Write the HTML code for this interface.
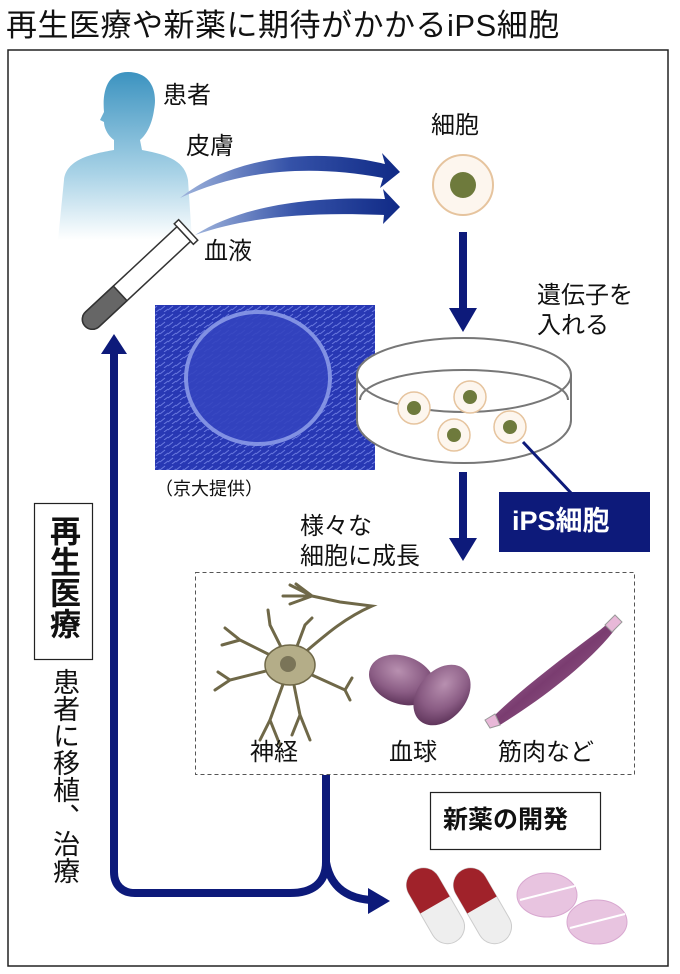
<!DOCTYPE html>
<html><head><meta charset="utf-8"><style>
html,body{margin:0;padding:0;background:#fff;}
body{width:680px;height:974px;position:relative;overflow:hidden;font-family:"Liberation Sans","Noto Sans CJK JP",sans-serif;}
.t{position:absolute;color:#111;white-space:nowrap;line-height:1;}
</style></head><body>
<svg width="680" height="974" viewBox="0 0 680 974" style="position:absolute;left:0;top:0">
<defs>
<linearGradient id="body" x1="0" y1="0" x2="0" y2="1"><stop offset="0" stop-color="#3c93c0"/><stop offset="0.6" stop-color="#a8d2e6"/><stop offset="1" stop-color="#fff"/></linearGradient>
<linearGradient id="arr" x1="0" y1="0" x2="1" y2="0"><stop offset="0" stop-color="#9fb4dc"/><stop offset="0.5" stop-color="#3552a8"/><stop offset="1" stop-color="#102a86"/></linearGradient>
<pattern id="tex" width="8" height="8" patternUnits="userSpaceOnUse"><rect width="8" height="8" fill="#2838b4"/><path d="M0 6 L5 2 M4 8 L8 5" stroke="#6a7ae0" stroke-width="1"/></pattern>
<radialGradient id="rbc" cx="0.4" cy="0.35" r="0.7"><stop offset="0" stop-color="#b890b0"/><stop offset="0.6" stop-color="#8a5c84"/><stop offset="1" stop-color="#5c3258"/></radialGradient>
<linearGradient id="mus" x1="0" y1="0" x2="1" y2="1"><stop offset="0" stop-color="#c8a0c4"/><stop offset="0.5" stop-color="#7a3c70"/><stop offset="1" stop-color="#a8789c"/></linearGradient>
</defs>
<rect x="8" y="50" width="660" height="916" fill="none" stroke="#222" stroke-width="1.5"/>
<!-- person -->
<path d="M128 72 C150 72 158 90 154 110 C152 125 146 135 140 140 L142 150 C170 155 185 162 188 180 L192 240 L58 240 L64 180 C66 160 90 154 114 150 L114 140 C108 136 104 128 104 122 L100 120 L104 112 C102 90 108 72 128 72 Z" fill="url(#body)"/>
<!-- test tube -->
<g transform="translate(186,232) rotate(137)">
<rect x="-3" y="-14" width="6" height="28" fill="#fff" stroke="#333" stroke-width="1.5"/>
<path d="M3 -10 L128 -10 A10 10 0 0 1 128 10 L3 10 Z" fill="#fff" stroke="#333" stroke-width="1.5"/>
<path d="M90 -10 L128 -10 A10 10 0 0 1 128 10 L90 10 Z" fill="#666" stroke="#333" stroke-width="1.5"/>
</g>
<!-- curved arrows -->
<path d="M180 198 C230 158 310 146 385 164 L382 153 L400 172 L380 188 L383 178 C310 164 240 170 180 198 Z" fill="url(#arr)"/>
<path d="M195 235 C240 206 310 196 385 199 L383 189 L400 207 L383 224 L384 215 C310 212 250 216 195 235 Z" fill="url(#arr)"/>
<!-- cell -->
<circle cx="463" cy="185" r="30" fill="#fdf6ee" stroke="#e6c49e" stroke-width="2"/>
<circle cx="463" cy="185" r="13" fill="#6e7a3c"/>
<!-- down arrows -->
<rect x="459" y="232" width="8" height="78" fill="#0d1a7a"/>
<path d="M449 308 L477 308 L463 332 Z" fill="#0d1a7a"/>
<rect x="459" y="472" width="8" height="68" fill="#0d1a7a"/>
<path d="M449 538 L477 538 L463 561 Z" fill="#0d1a7a"/>
<!-- photo -->
<rect x="155" y="305" width="220" height="165" fill="url(#tex)"/>
<ellipse cx="258" cy="378" rx="72" ry="66" fill="#3444c0" stroke="#8a9ae8" stroke-width="4" opacity="0.9"/>
<!-- dish -->
<path d="M357 375 L357 420 A107 43 0 0 0 571 420 L571 375" fill="#fff" stroke="#777" stroke-width="2"/>
<ellipse cx="464" cy="375" rx="107" ry="37" fill="#fff" stroke="#777" stroke-width="2"/>
<path d="M360 400 A104 30 0 0 1 568 400" fill="none" stroke="#777" stroke-width="2"/>
<g fill="#fdf6ee" stroke="#e6c49e" stroke-width="1.5">
<circle cx="414" cy="408" r="16"/><circle cx="470" cy="397" r="16"/><circle cx="454" cy="435" r="16"/><circle cx="510" cy="427" r="16"/></g>
<g fill="#6e7a3c"><circle cx="414" cy="408" r="7"/><circle cx="470" cy="397" r="7"/><circle cx="454" cy="435" r="7"/><circle cx="510" cy="427" r="7"/></g>
<line x1="523" y1="442" x2="572" y2="494" stroke="#0d1a7a" stroke-width="3"/>
<rect x="499" y="492" width="151" height="60" fill="#0d1a7a"/>
<!-- dashed box -->
<rect x="195.5" y="572.5" width="439" height="202" fill="none" stroke="#555" stroke-width="1" stroke-dasharray="4,3"/>
<!-- neuron -->
<g stroke="#6f6848" stroke-width="3" fill="none" stroke-linecap="round">
<path d="M290 665 L240 640 M240 640 L222 645 M240 640 L225 628"/>
<path d="M290 665 L230 680 L215 690 M230 680 L218 672"/>
<path d="M290 665 L270 720 L260 740 M270 720 L280 745"/>
<path d="M290 665 L300 715 L310 740 M300 715 L292 735"/>
<path d="M290 665 L345 690 L352 678 M345 690 L350 700"/>
<path d="M290 665 L305 625 L312 618"/>
<path d="M290 665 L270 625 L268 610"/>
<path d="M290 665 C320 640 340 620 372 606 L340 602 L312 596 M312 596 L290 585 M312 596 L283 596 M312 596 L290 604 M312 596 L296 584"/>
</g>
<ellipse cx="290" cy="665" rx="25" ry="20" fill="#b4ad88" stroke="#6f6848" stroke-width="1.5"/>
<circle cx="288" cy="664" r="8" fill="#7a7458"/>
<!-- rbc -->
<ellipse cx="402" cy="680" rx="34" ry="24" transform="rotate(20 402 680)" fill="url(#rbc)"/>
<ellipse cx="442" cy="695" rx="24" ry="34" transform="rotate(40 442 695)" fill="url(#rbc)"/>
<!-- muscle -->
<path d="M492 718 C520 690 560 660 600 630 L612 620 L618 626 L608 638 C580 670 540 700 500 725 Z" fill="url(#mus)"/>
<path d="M485 720 L495 714 L500 725 L490 728 Z" fill="#e8b8d8" stroke="#999"/>
<path d="M605 625 L615 615 L622 622 L612 632 Z" fill="#e8b8d8" stroke="#999"/>
<!-- drug box -->
<rect x="430.5" y="792.5" width="170" height="57" fill="#fff" stroke="#222" stroke-width="1.2"/>
<!-- pills -->
<g transform="rotate(-30 435 905)"><rect x="418" y="865" width="34" height="82" rx="17" fill="#eee" stroke="#ccc"/><path d="M418 905 L418 882 A17 17 0 0 1 452 882 L452 905 Z" fill="#a0222a"/></g>
<g transform="rotate(-30 482 905)"><rect x="465" y="865" width="34" height="82" rx="17" fill="#eee" stroke="#ccc"/><path d="M465 905 L465 882 A17 17 0 0 1 499 882 L499 905 Z" fill="#a0222a"/></g>
<ellipse cx="547" cy="895" rx="30" ry="22" fill="#e8c4e0" stroke="#d8a8d0"/>
<line x1="520" y1="900" x2="575" y2="886" stroke="#fff" stroke-width="2"/>
<ellipse cx="597" cy="922" rx="30" ry="22" fill="#e8c4e0" stroke="#d8a8d0"/>
<line x1="570" y1="928" x2="625" y2="914" stroke="#fff" stroke-width="2"/>
<!-- connectors -->
<path d="M326 775 L326 862 C326 885 310 893 290 893 L135 893 C122 893 114 885 114 872 L114 352" fill="none" stroke="#0d1a7a" stroke-width="8"/>
<path d="M101 354 L127 354 L114 334 Z" fill="#0d1a7a"/>
<path d="M326 862 C330 885 345 898 370 900" fill="none" stroke="#0d1a7a" stroke-width="8"/>
<path d="M368 888 L390 901 L368 914 Z" fill="#0d1a7a"/>
<!-- regen box -->
<rect x="34.5" y="503.5" width="58" height="156" fill="#fff" stroke="#222" stroke-width="1.2"/>
</svg>
<div class="t" style="left:6px;top:10px;font-size:31px;letter-spacing:0.5px;">再生医療や新薬に期待がかかるiPS細胞</div>
<div class="t" style="left:163px;top:84px;font-size:24px;">患者</div>
<div class="t" style="left:186px;top:135px;font-size:24px;">皮膚</div>
<div class="t" style="left:204px;top:240px;font-size:24px;">血液</div>
<div class="t" style="left:431px;top:114px;font-size:24px;">細胞</div>
<div class="t" style="left:537px;top:281px;font-size:24px;line-height:30px;">遺伝子を<br>入れる</div>
<div class="t" style="left:155px;top:480px;font-size:18px;">（京大提供）</div>
<div class="t" style="left:300px;top:512px;font-size:24px;line-height:30px;">様々な<br>細胞に成長</div>
<div class="t" style="left:512px;top:508px;font-size:27px;color:#fff;font-weight:bold;">iPS細胞</div>
<div class="t" style="left:250px;top:741px;font-size:24px;">神経</div>
<div class="t" style="left:389px;top:741px;font-size:24px;">血球</div>
<div class="t" style="left:498px;top:741px;font-size:24px;">筋肉など</div>
<div class="t" style="left:443px;top:808px;font-size:25px;font-weight:bold;">新薬の開発</div>
<div class="t" style="left:47px;top:515px;font-size:31px;font-weight:bold;writing-mode:vertical-rl;line-height:1;">再生医療</div>
<div class="t" style="left:50px;top:668px;font-size:27px;writing-mode:vertical-rl;line-height:1;">患者に移植、治療</div>
</body></html>
